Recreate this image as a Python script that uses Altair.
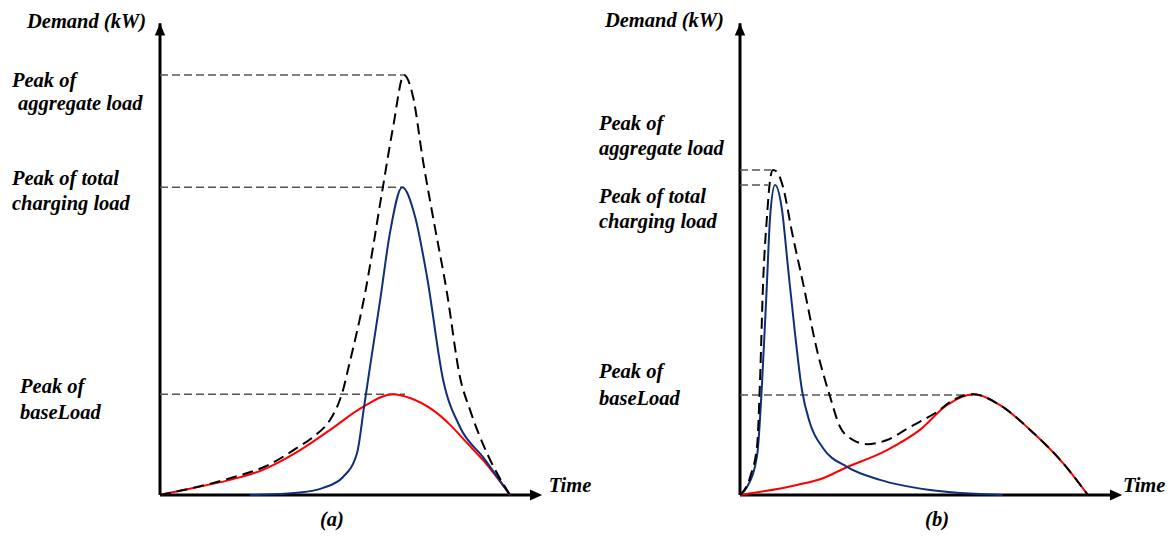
import altair as alt
import pandas as pd

# ---------------- Panel (a): peaks coincide ----------------
A_BASE_T = [0, 6.6, 20, 29.4, 39.1, 48.6, 58, 66.6, 71.4, 78, 82.9, 87.7, 92.3, 100]
A_BASE_D = [0, 1.2, 3.6, 6.0, 10.2, 15.5, 21, 24, 23.1, 20.2, 16.7, 12.4, 8.3, 0]

A_CHG_T = [25.7, 40, 46.6, 52.3, 56.3, 58.3, 60, 62.9, 65.7, 69.2, 72.9, 76.3, 80.9, 85.7, 92.3, 100]
A_CHG_D = [0, 0.6, 1.7, 4.3, 10, 21, 30.5, 46.4, 62.4, 73.3, 66.2, 51.9, 27.4, 16.2, 9.0, 0]

A_AGG_T = [0, 20, 30.6, 39.1, 43.7, 48.6, 50.6, 52.3, 53.7, 58.6, 63.4, 66.6, 69.7, 72.3, 75.1,
           78, 82, 85.7, 88.6, 93.4, 100]
A_AGG_D = [0, 4.0, 7.0, 11.2, 13.8, 17.9, 21, 25, 29.8, 48.1, 71.9, 87.6, 100, 94.8, 79.8,
           66.2, 48.1, 28.1, 20.2, 10, 0]

# reference (peak) lines: end time, level
A_PEAK_END = [70, 69.2, 70]
A_PEAK_LEVEL = [100, 73.3, 24]

# ---------------- Panel (b): peaks staggered ----------------
B_BASE_T = [0, 16.3, 23.7, 29.4, 42, 51.4, 59.1, 66.6, 74.3, 82.9, 92.3, 99.4]
B_BASE_D = [0, 2.4, 4.0, 6.2, 10.7, 15.5, 21.4, 24, 21.4, 15.5, 7.6, 0]

B_CHG_T = [0, 2, 4.9, 6.3, 7.7, 8.6, 10, 12, 13.7, 15.7, 17.7, 20, 23.7, 30.6, 40, 54.3, 75]
B_CHG_D = [0, 1.9, 9.5, 26.7, 50.5, 66.2, 73.8, 67.9, 54.3, 38.6, 25, 17.1, 11.2, 6.7, 3.6, 1.2, 0]

B_AGG_T = [0, 2.9, 4.9, 5.7, 6.6, 7.7, 8.6, 9.4, 10.6, 12.3, 14.9, 18, 22, 25.7, 28.6, 32.3,
           36.3, 42, 48.6, 56.3, 60.9, 66.6, 74.3, 82.9, 92.3, 99.4]
B_AGG_D = [0, 4.3, 11.9, 26.7, 50.5, 66.2, 75, 77.4, 76.9, 73.3, 62.4, 50.5, 34.5, 23.5, 16.2, 13.1,
           12.1, 13.1, 16.2, 19.8, 22.6, 24, 21.4, 15.5, 7.6, 0]

B_PEAK_END = [8.9, 8.0, 66.6]
B_PEAK_LEVEL = [77.4, 73.8, 23.8]

# ---------------- Text ----------------
Y_TITLE = "Demand (kW)"
X_TITLE = "Time"
A_LABELS = ["Peak of", "aggregate load", "Peak of total", "charging load", "Peak of", "baseLoad"]
A_LABEL_T = [-42.3, -40.6, -42.3, -42.3, -40.0, -40.0]
A_LABEL_D = [97.1, 91.7, 73.8, 67.9, 24.3, 18.1]
B_LABELS = ["Peak of", "aggregate load", "Peak of total", "charging load", "Peak of", "baseLoad"]
B_LABEL_T = [-40.3, -40.3, -40.3, -40.3, -40.3, -40.3]
B_LABEL_D = [86.9, 81.0, 69.5, 63.6, 27.9, 21.4]

AXIS_TOP = 112.3
AXIS_RIGHT = 107.7

FONT = "Liberation Serif"
RED = "#ff0000"
BLUE = "#0f2f78"
BLACK = "#000000"
GREY = "#555555"

UP_ARROW = "M0,0 L-0.85,2 L0.85,2 Z"
RIGHT_ARROW = "M0,0 L-2,-0.9 L-2,0.9 Z"


def panel(base, chg, agg, peak_end, peak_level, labels, label_t, label_d,
          ytitle_pos, xtitle_pos, caption, caption_t, xdom):
    xs = alt.Scale(domain=xdom, zero=False, nice=False)
    ys = alt.Scale(domain=[-8.33, 115.95], zero=False, nice=False)
    X = lambda f: alt.X(f, type="quantitative", scale=xs, axis=None)
    Y = lambda f: alt.Y(f, type="quantitative", scale=ys, axis=None)

    layers = []
    # axes
    vax = pd.DataFrame({"t": [0], "d0": [0], "d1": [AXIS_TOP]})
    hax = pd.DataFrame({"d": [0], "t0": [0], "t1": [AXIS_RIGHT]})
    layers.append(alt.Chart(vax).mark_rule(color=BLACK, strokeWidth=3).encode(
        x=X("t"), y=Y("d0"), y2="d1"))
    layers.append(alt.Chart(hax).mark_rule(color=BLACK, strokeWidth=3).encode(
        y=Y("d"), x=X("t0"), x2="t1"))
    tips_up = pd.DataFrame({"t": [0], "d": [AXIS_TOP]})
    tips_right = pd.DataFrame({"t": [AXIS_RIGHT + 1.5], "d": [0]})
    layers.append(alt.Chart(tips_up).mark_point(shape=UP_ARROW, size=150, filled=True,
                                                 color=BLACK, opacity=1, strokeWidth=0).encode(
        x=X("t"), y=Y("d")))
    layers.append(alt.Chart(tips_right).mark_point(shape=RIGHT_ARROW, size=150, filled=True,
                                                    color=BLACK, opacity=1, strokeWidth=0).encode(
        x=X("t"), y=Y("d")))

    # peak reference lines
    refs = pd.DataFrame({"t0": [0] * len(peak_end), "t1": peak_end, "d": peak_level})
    layers.append(alt.Chart(refs).mark_rule(color=GREY, strokeWidth=1.5, strokeDash=[8, 4]).encode(
        x=X("t0"), x2="t1", y=Y("d")))

    # curves
    for (tt, dd), color, width, dash in [(base, RED, 2, None), (chg, BLUE, 2, None),
                                          (agg, BLACK, 2, [11, 6])]:
        df = pd.DataFrame({"t": tt, "d": dd})
        kw = dict(color=color, strokeWidth=width, interpolate="monotone")
        if dash:
            kw["strokeDash"] = dash
        layers.append(alt.Chart(df).mark_line(**kw).encode(x=X("t"), y=Y("d")))

    # text
    tkw = dict(font=FONT, fontSize=20.5, fontStyle="italic", fontWeight="bold", color=BLACK)
    lab = pd.DataFrame({"t": label_t, "d": label_d, "label": labels})
    layers.append(alt.Chart(lab).mark_text(align="left", baseline="alphabetic", **tkw).encode(
        x=X("t"), y=Y("d"), text="label:N"))
    yt = pd.DataFrame({"t": [ytitle_pos[0]], "d": [ytitle_pos[1]], "label": [Y_TITLE]})
    layers.append(alt.Chart(yt).mark_text(align="right", baseline="alphabetic", **tkw).encode(
        x=X("t"), y=Y("d"), text="label:N"))
    xt = pd.DataFrame({"t": [xtitle_pos[0]], "d": [xtitle_pos[1]], "label": [X_TITLE]})
    layers.append(alt.Chart(xt).mark_text(align="left", baseline="alphabetic", **tkw).encode(
        x=X("t"), y=Y("d"), text="label:N"))
    cap = pd.DataFrame({"t": [caption_t], "d": [-8.25], "label": [caption]})
    layers.append(alt.Chart(cap).mark_text(align="center", baseline="bottom", **tkw).encode(
        x=X("t"), y=Y("d"), text="label:N"))

    return alt.layer(*layers).properties(width=579, height=522)


pa = panel((A_BASE_T, A_BASE_D), (A_CHG_T, A_CHG_D), (A_AGG_T, A_AGG_D),
           A_PEAK_END, A_PEAK_LEVEL, A_LABELS, A_LABEL_T, A_LABEL_D,
           (-4.0, 111.2), (111.1, 0.7), "(a)", 49.1, [-43.43, 122.0])
pb = panel((B_BASE_T, B_BASE_D), (B_CHG_T, B_CHG_D), (B_AGG_T, B_AGG_D),
           B_PEAK_END, B_PEAK_LEVEL, B_LABELS, B_LABEL_T, B_LABEL_D,
           (-4.6, 111.4), (109.4, 0.7), "(b)", 56.3, [-43.71, 121.71])

chart = alt.hconcat(pa, pb, spacing=0, bounds="flush").properties(padding=0).configure_view(strokeWidth=0)

chart.save("out.html", embed_options={"renderer": "svg", "actions": False})
